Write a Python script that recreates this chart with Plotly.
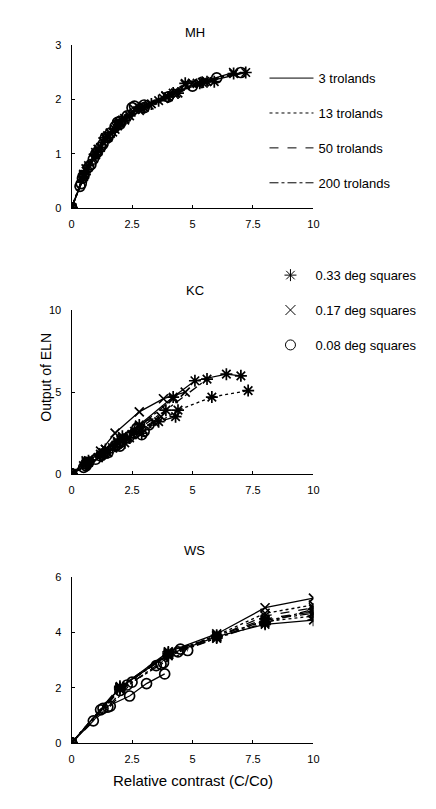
import plotly.graph_objects as go

# ---------------- data ----------------
# MH panel (x = relative contrast, y = output of ELN)
mh_a33_3_x = [0, 0.7, 1.4, 2.1, 2.8, 4.2, 5.6, 7.2]
mh_a33_3_y = [0, 0.78, 1.3, 1.62, 1.85, 2.12, 2.33, 2.5]
mh_a33_13_x = [0, 0.6, 1.2, 1.8, 2.4, 3.6, 4.7, 5.9]
mh_a33_13_y = [0, 0.68, 1.12, 1.45, 1.7, 1.98, 2.3, 2.33]
mh_a33_50_x = [0, 0.55, 1.1, 1.7, 2.2, 3.3, 4.4, 5.4]
mh_a33_50_y = [0, 0.62, 1.05, 1.4, 1.62, 1.92, 2.12, 2.32]
mh_a33_200_x = [0, 0.5, 1.0, 1.5, 2.0, 3.0, 4.0, 5.3, 6.7]
mh_a33_200_y = [0, 0.58, 0.98, 1.3, 1.55, 1.85, 2.05, 2.3, 2.48]
mh_x17_3_x = [0, 0.6, 1.3, 1.9, 2.6, 3.9, 5.2, 6.7]
mh_x17_3_y = [0, 0.72, 1.22, 1.55, 1.82, 2.07, 2.3, 2.5]
mh_x17_13_x = [0, 0.5, 1.1, 1.6, 2.2, 3.2, 4.3, 5.5]
mh_x17_13_y = [0, 0.6, 1.08, 1.38, 1.65, 1.9, 2.12, 2.33]
mh_x17_50_x = [0, 0.45, 0.9, 1.4, 1.9, 2.8, 3.8, 4.7]
mh_x17_50_y = [0, 0.55, 0.92, 1.28, 1.52, 1.8, 2.02, 2.28]
mh_x17_200_x = [0, 0.5, 1.0, 1.5, 2.0, 2.9, 3.9, 5.0]
mh_x17_200_y = [0, 0.62, 1.02, 1.33, 1.58, 1.84, 2.06, 2.3]
mh_o08_3_x = [0, 0.4, 0.8, 1.2, 1.6, 2.0, 2.6]
mh_o08_3_y = [0, 0.45, 0.8, 1.12, 1.38, 1.6, 1.88]
mh_o08_13_x = [0, 0.35, 0.7, 1.05, 1.4, 1.9, 2.5]
mh_o08_13_y = [0, 0.4, 0.75, 1.02, 1.3, 1.58, 1.85]
mh_o08_50_x = [0, 0.45, 0.9, 1.3, 1.8, 2.3, 3.0]
mh_o08_50_y = [0, 0.55, 0.9, 1.18, 1.5, 1.7, 1.9]
mh_o08_200_x = [0, 0.5, 1.0, 1.5, 2.0, 3.0, 4.0, 5.0, 6.0, 7.0]
mh_o08_200_y = [0, 0.6, 1.0, 1.3, 1.55, 1.85, 2.05, 2.25, 2.4, 2.5]

# KC panel
kc_a33_3_x = [0, 0.7, 1.4, 2.1, 2.8, 4.2, 5.1, 6.4, 7.0]
kc_a33_3_y = [0, 0.8, 1.5, 2.3, 3.0, 4.7, 5.7, 6.1, 6.0]
kc_a33_13_x = [0, 0.7, 1.5, 2.2, 2.9, 4.4, 5.8, 7.3]
kc_a33_13_y = [0, 0.7, 1.3, 1.9, 2.5, 3.9, 4.7, 5.1]
kc_a33_50_x = [0, 0.6, 1.2, 1.8, 2.4, 3.6, 4.3]
kc_a33_50_y = [0, 0.6, 1.1, 1.7, 2.2, 3.2, 3.5]
kc_a33_200_x = [0, 0.6, 1.3, 1.9, 2.6, 3.9, 5.6]
kc_a33_200_y = [0, 0.7, 1.3, 2.0, 2.6, 3.9, 5.8]
kc_x17_3_x = [0, 0.6, 1.2, 1.8, 2.8, 3.8, 4.7]
kc_x17_3_y = [0, 0.8, 1.4, 2.5, 3.8, 4.6, 5.0]
kc_x17_13_x = [0, 0.5, 1.1, 1.7, 2.3, 3.4]
kc_x17_13_y = [0, 0.5, 1.0, 1.6, 2.2, 3.2]
kc_x17_50_x = [0, 0.6, 1.2, 1.9, 2.5, 3.7]
kc_x17_50_y = [0, 0.6, 1.2, 1.9, 2.4, 3.5]
kc_x17_200_x = [0, 0.7, 1.4, 2.1, 2.8, 4.2]
kc_x17_200_y = [0, 0.8, 1.5, 2.2, 2.9, 4.6]
kc_o08_3_x = [0, 0.6, 1.2, 1.8, 2.4, 3.0]
kc_o08_3_y = [0, 0.5, 1.1, 1.7, 2.3, 2.6]
kc_o08_13_x = [0, 0.5, 1.0, 1.5, 2.0, 2.9]
kc_o08_13_y = [0, 0.4, 0.9, 1.3, 1.7, 2.4]
kc_o08_50_x = [0, 0.7, 1.4, 2.0, 2.7]
kc_o08_50_y = [0, 0.7, 1.3, 1.9, 2.8]
kc_o08_200_x = [0, 0.6, 1.3, 1.9, 2.6, 3.2]
kc_o08_200_y = [0, 0.6, 1.2, 1.8, 2.5, 3.0]

# WS panel
ws_a33_3_x = [0, 2, 4, 6, 8, 10]
ws_a33_3_y = [0, 2.0, 3.2, 3.85, 4.3, 4.45]
ws_a33_13_x = [0, 2, 4, 6, 8, 10]
ws_a33_13_y = [0, 1.95, 3.25, 3.9, 4.4, 4.6]
ws_a33_50_x = [0, 2, 4, 6, 8, 10]
ws_a33_50_y = [0, 2.0, 3.3, 3.85, 4.5, 4.75]
ws_a33_200_x = [0, 2, 4, 6, 8, 10]
ws_a33_200_y = [0, 2.05, 3.15, 3.8, 4.35, 4.85]
ws_x17_3_x = [0, 2, 4, 6, 8, 10]
ws_x17_3_y = [0, 2.0, 3.3, 3.95, 4.9, 5.25]
ws_x17_13_x = [0, 2, 4, 6, 8, 10]
ws_x17_13_y = [0, 2.0, 3.2, 3.9, 4.7, 5.0]
ws_x17_50_x = [0, 2, 4, 6, 8, 10]
ws_x17_50_y = [0, 1.95, 3.25, 3.85, 4.6, 4.9]
ws_x17_200_x = [0, 2, 4, 6, 8, 10]
ws_x17_200_y = [0, 2.0, 3.2, 3.8, 4.45, 4.7]
ws_o08_3_x = [0, 0.9, 1.3, 2.4, 3.1, 3.85]
ws_o08_3_y = [0, 0.8, 1.25, 1.7, 2.15, 2.5]
ws_o08_13_x = [0, 1.2, 1.6, 2.5, 3.8, 4.8]
ws_o08_13_y = [0, 1.2, 1.33, 2.2, 2.9, 3.35]
ws_o08_50_x = [0, 1.5, 2.3, 3.7, 4.5]
ws_o08_50_y = [0, 1.3, 2.1, 2.85, 3.4]
ws_o08_200_x = [0, 2.0, 3.5, 4.4]
ws_o08_200_y = [0, 1.9, 2.8, 3.3]

luminances = ["3 trolands", "13 trolands", "50 trolands", "200 trolands"]
sizes = ["0.33 deg squares", "0.17 deg squares", "0.08 deg squares"]
panel_titles = ["MH", "KC", "WS"]
x_ticks = [0, 2.5, 5, 7.5, 10]
x_tick_text = ["0", "2.5", "5", "7.5", "10"]
mh_y_ticks = [0, 1, 2, 3]
kc_y_ticks = [0, 5, 10]
ws_y_ticks = [0, 2, 4, 6]

# ---------------- styles ----------------
dash_of = {"3 trolands": "solid", "13 trolands": "dot",
           "50 trolands": "dash", "200 trolands": "dashdot"}
symbol_of = {"0.33 deg squares": "asterisk-open",
             "0.17 deg squares": "x-thin-open",
             "0.08 deg squares": "circle-open"}
msize_of = {"0.33 deg squares": 10, "0.17 deg squares": 9,
            "0.08 deg squares": 10}

panels = {
    "MH": ("x", "y", {
        ("0.33 deg squares", "3 trolands"): (mh_a33_3_x, mh_a33_3_y),
        ("0.33 deg squares", "13 trolands"): (mh_a33_13_x, mh_a33_13_y),
        ("0.33 deg squares", "50 trolands"): (mh_a33_50_x, mh_a33_50_y),
        ("0.33 deg squares", "200 trolands"): (mh_a33_200_x, mh_a33_200_y),
        ("0.17 deg squares", "3 trolands"): (mh_x17_3_x, mh_x17_3_y),
        ("0.17 deg squares", "13 trolands"): (mh_x17_13_x, mh_x17_13_y),
        ("0.17 deg squares", "50 trolands"): (mh_x17_50_x, mh_x17_50_y),
        ("0.17 deg squares", "200 trolands"): (mh_x17_200_x, mh_x17_200_y),
        ("0.08 deg squares", "3 trolands"): (mh_o08_3_x, mh_o08_3_y),
        ("0.08 deg squares", "13 trolands"): (mh_o08_13_x, mh_o08_13_y),
        ("0.08 deg squares", "50 trolands"): (mh_o08_50_x, mh_o08_50_y),
        ("0.08 deg squares", "200 trolands"): (mh_o08_200_x, mh_o08_200_y),
    }),
    "KC": ("x2", "y2", {
        ("0.33 deg squares", "3 trolands"): (kc_a33_3_x, kc_a33_3_y),
        ("0.33 deg squares", "13 trolands"): (kc_a33_13_x, kc_a33_13_y),
        ("0.33 deg squares", "50 trolands"): (kc_a33_50_x, kc_a33_50_y),
        ("0.33 deg squares", "200 trolands"): (kc_a33_200_x, kc_a33_200_y),
        ("0.17 deg squares", "3 trolands"): (kc_x17_3_x, kc_x17_3_y),
        ("0.17 deg squares", "13 trolands"): (kc_x17_13_x, kc_x17_13_y),
        ("0.17 deg squares", "50 trolands"): (kc_x17_50_x, kc_x17_50_y),
        ("0.17 deg squares", "200 trolands"): (kc_x17_200_x, kc_x17_200_y),
        ("0.08 deg squares", "3 trolands"): (kc_o08_3_x, kc_o08_3_y),
        ("0.08 deg squares", "13 trolands"): (kc_o08_13_x, kc_o08_13_y),
        ("0.08 deg squares", "50 trolands"): (kc_o08_50_x, kc_o08_50_y),
        ("0.08 deg squares", "200 trolands"): (kc_o08_200_x, kc_o08_200_y),
    }),
    "WS": ("x3", "y3", {
        ("0.33 deg squares", "3 trolands"): (ws_a33_3_x, ws_a33_3_y),
        ("0.33 deg squares", "13 trolands"): (ws_a33_13_x, ws_a33_13_y),
        ("0.33 deg squares", "50 trolands"): (ws_a33_50_x, ws_a33_50_y),
        ("0.33 deg squares", "200 trolands"): (ws_a33_200_x, ws_a33_200_y),
        ("0.17 deg squares", "3 trolands"): (ws_x17_3_x, ws_x17_3_y),
        ("0.17 deg squares", "13 trolands"): (ws_x17_13_x, ws_x17_13_y),
        ("0.17 deg squares", "50 trolands"): (ws_x17_50_x, ws_x17_50_y),
        ("0.17 deg squares", "200 trolands"): (ws_x17_200_x, ws_x17_200_y),
        ("0.08 deg squares", "3 trolands"): (ws_o08_3_x, ws_o08_3_y),
        ("0.08 deg squares", "13 trolands"): (ws_o08_13_x, ws_o08_13_y),
        ("0.08 deg squares", "50 trolands"): (ws_o08_50_x, ws_o08_50_y),
        ("0.08 deg squares", "200 trolands"): (ws_o08_200_x, ws_o08_200_y),
    }),
}

FONT = "Liberation Sans, Arial, Helvetica, sans-serif"
fig = go.Figure()

for name in panel_titles:
    xa, ya, series = panels[name]
    for (size, lum), (xs, ys) in series.items():
        fig.add_trace(go.Scatter(
            x=xs, y=ys, xaxis=xa, yaxis=ya, mode="lines+markers",
            line=dict(color="black", width=1.3, dash=dash_of[lum]),
            marker=dict(symbol=symbol_of[size], size=msize_of[size],
                        color="black", line=dict(color="black", width=1.7)),
            showlegend=False, hoverinfo="skip"))

# legend entries (line styles)
for lum in luminances:
    fig.add_trace(go.Scatter(
        x=[None], y=[None], mode="lines", name=lum, legend="legend",
        line=dict(color="black", width=1, dash=dash_of[lum]),
        legendgroup=lum))
# legend entries (symbols)
for size in sizes:
    fig.add_trace(go.Scatter(
        x=[None], y=[None], mode="markers", name=size, legend="legend2",
        marker=dict(symbol=symbol_of[size], size=10, color="black",
                    line=dict(color="black", width=1)),
        legendgroup=size))

W, H = 436, 809
xdom = [70 / W, 317 / W]
ydoms = {
    "MH": [1 - 205 / H, 1 - 40 / H],
    "KC": [1 - 475 / H, 1 - 309 / H],
    "WS": [1 - 748 / H, 1 - 580 / H],
}
yranges = {"MH": [0, 3], "KC": [0, 10], "WS": [0, 6]}
yticks = {"MH": mh_y_ticks, "KC": kc_y_ticks, "WS": ws_y_ticks}

axis_common = dict(showgrid=False, zeroline=False, showline=True,
                   linecolor="black", linewidth=1.2, ticks="inside",
                   ticklen=3, tickcolor="black", tickwidth=1,
                   tickfont=dict(family=FONT, size=11, color="black"))

layout = dict(
    width=W, height=H, margin=dict(l=0, r=0, t=0, b=0),
    paper_bgcolor="white", plot_bgcolor="white",
    font=dict(family=FONT, color="black"),
    legend=dict(x=267 / W, xanchor="left", y=1 - 58 / H, yanchor="top",
                font=dict(family=FONT, size=13), tracegroupgap=15,
                itemwidth=44, bgcolor="rgba(0,0,0,0)"),
    legend2=dict(x=268 / W, xanchor="left", y=1 - 258 / H, yanchor="top",
                 font=dict(family=FONT, size=13), tracegroupgap=15,
                 itemwidth=40, bgcolor="rgba(0,0,0,0)"),
)
for i, name in enumerate(panel_titles):
    sfx = "" if i == 0 else str(i + 1)
    layout["xaxis" + sfx] = dict(
        domain=xdom, range=[0, 10], tickvals=x_ticks, ticktext=x_tick_text,
        anchor="y" + sfx, ticklabelstandoff=6, **axis_common)
    layout["yaxis" + sfx] = dict(
        domain=ydoms[name], range=yranges[name], tickvals=yticks[name],
        anchor="x" + sfx, ticklabelstandoff=7, **axis_common)
fig.update_layout(**layout)

title_y = {"MH": 17, "KC": 289, "WS": 562}
for name in panel_titles:
    fig.add_annotation(text=name, x=196 / W, y=1 - title_y[name] / H,
                       xref="paper", yref="paper", showarrow=False,
                       font=dict(family=FONT, size=13, color="black"))
fig.add_annotation(text="Output of ELN", textangle=-90, x=34 / W,
                   y=1 - 377 / H, xref="paper", yref="paper",
                   showarrow=False,
                   font=dict(family=FONT, size=14, color="black"))
fig.add_annotation(text="Relative contrast (C/Co)", x=194 / W,
                   y=1 - 797 / H, xref="paper", yref="paper",
                   showarrow=False,
                   font=dict(family=FONT, size=15, color="black"))

fig.write_html("out.html")
